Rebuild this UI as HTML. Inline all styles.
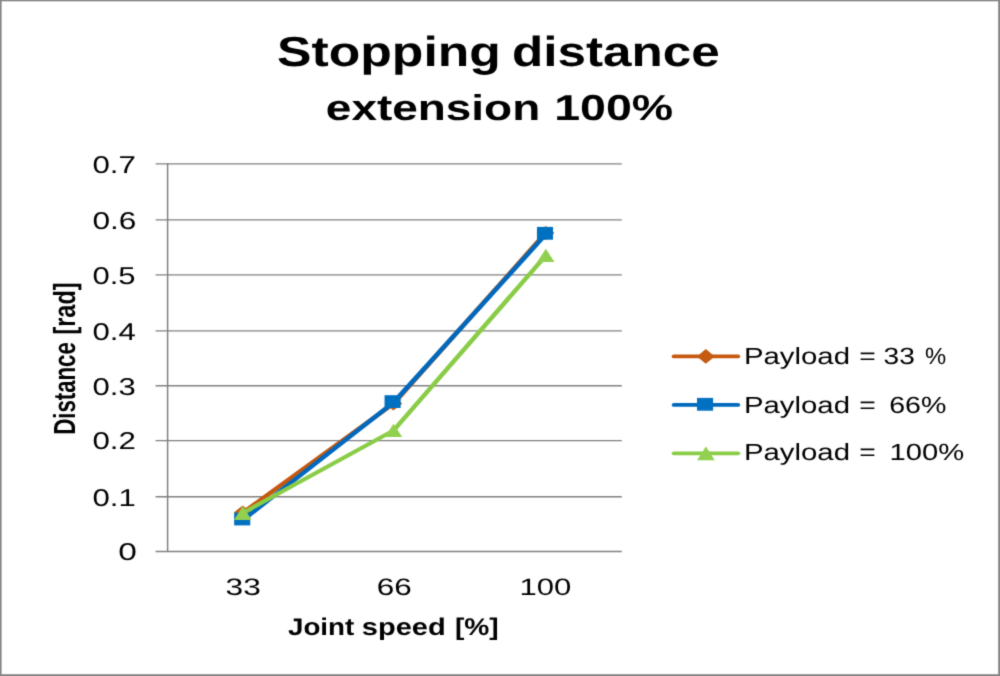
<!DOCTYPE html>
<html>
<head>
<meta charset="utf-8">
<title>Stopping distance</title>
<style>
html,body{margin:0;padding:0;background:#fff;}
body{width:1000px;height:676px;overflow:hidden;font-family:"Liberation Sans",sans-serif;}
svg{display:block;}
text{font-family:"Liberation Sans",sans-serif;fill:#000;text-rendering:geometricPrecision;}
.b{font-weight:bold;}
</style>
</head>
<body>
<svg width="1000" height="676" viewBox="0 0 1000 676">
  <defs>
    <filter id="soft" x="0" y="0" width="1000" height="676" filterUnits="userSpaceOnUse" color-interpolation-filters="sRGB">
      <feConvolveMatrix order="3" kernelMatrix="0.01960 0.10080 0.01960 0.10080 0.51840 0.10080 0.01960 0.10080 0.01960" divisor="1" edgeMode="duplicate" preserveAlpha="true"/>
    </filter>
  </defs>
  <g filter="url(#soft)">
  <rect x="0" y="0" width="1000" height="676" fill="#ffffff"/>
  <!-- outer border -->
  <g id="border" fill="#858585">
  <rect x="0" y="0" width="1000" height="1.3"/>
  <rect x="0" y="0" width="1.6" height="676"/>
  <rect x="998.2" y="0" width="1.8" height="676"/>
  <rect x="0" y="674.2" width="1000" height="1.8"/>
  </g>

  <!-- gridlines -->
  <g id="grid" stroke="#808080" stroke-width="1.3" fill="none">
    <line x1="155.6" y1="163.9" x2="621.8" y2="163.9"/>
    <line x1="155.6" y1="219.9" x2="621.8" y2="219.9"/>
    <line x1="155.6" y1="274.85" x2="621.8" y2="274.85"/>
    <line x1="155.6" y1="330.85" x2="621.8" y2="330.85"/>
    <line x1="155.6" y1="385.75" x2="621.8" y2="385.75"/>
    <line x1="155.6" y1="440.6" x2="621.8" y2="440.6"/>
    <line x1="155.6" y1="496.75" x2="621.8" y2="496.75"/>
    <line x1="155.6" y1="551.5" x2="621.8" y2="551.5"/>
    <line x1="167.6" y1="163.3" x2="167.6" y2="552.1" stroke-width="1.5"/>
  </g>

  <g id="series" transform="scale(1.26 1)" stroke-width="3.9" stroke-linejoin="round" stroke-linecap="round">
  <g stroke="#c6570d" fill="#c55a11"><polyline fill="none" points="192.78,512.6 312.38,403.5 432.70,233.4"/><g stroke="none"><polygon points="185.56,512.4 192.62,505.4 199.68,512.4 192.62,519.4"/><polygon points="305.16,403.6 312.22,396.6 319.29,403.6 312.22,410.6"/><polygon points="425.95,232.9 433.02,225.9 440.08,232.9 433.02,239.9"/></g></g>
  <g stroke="#0069be" fill="#0070c0"><polyline fill="none" points="192.94,519.9 312.30,402.5 433.25,234.2"/><g stroke="none"><rect x="185.83" y="512.60" width="12.78" height="12.8"/><rect x="305.20" y="395.20" width="12.78" height="12.8"/><rect x="426.15" y="226.90" width="12.78" height="12.8"/></g></g>
  <g stroke="#89cc46" fill="#92d050"><polyline fill="none" points="192.70,513.0 312.30,430.5 433.17,255.5"/><g stroke="none"><polygon points="192.70,505.7 199.60,520.0 185.79,520.0"/><polygon points="312.30,423.7 319.21,437.0 305.40,437.0"/><polygon points="433.17,248.8 440.08,262.0 426.27,262.0"/></g></g>
  <line x1="534.92" y1="356.4" x2="585.63" y2="356.4" stroke="#c6570d" stroke-width="3.7"/>
  <line x1="534.92" y1="404.95" x2="585.63" y2="404.95" stroke="#0069be" stroke-width="3.7"/>
  <line x1="534.92" y1="453.3" x2="585.63" y2="453.3" stroke="#89cc46" stroke-width="3.7"/>
  <g fill="#c55a11"><polygon points="553.10,356.4 560.16,349.0 567.22,356.4 560.16,363.8"/></g>
  <g fill="#0070c0"><rect x="553.17" y="397.90" width="12.78" height="12.8"/></g>
  <g fill="#92d050"><polygon points="560.24,446.4 567.26,460.2 553.21,460.2"/></g>
  </g>

  <!-- texts -->
  <text id="t1a" class="tx b" x="277.09" y="66.30" font-size="42" textLength="223.76" lengthAdjust="spacingAndGlyphs">Stopping</text>
  <text id="t1b" class="tx b" x="512.07" y="66.30" font-size="42" textLength="207.73" lengthAdjust="spacingAndGlyphs">distance</text>
  <text id="t2a" class="tx b" x="325.85" y="119.60" font-size="36" textLength="214.38" lengthAdjust="spacingAndGlyphs">extension</text>
  <text id="t2b" class="tx b" x="554.23" y="119.60" font-size="36" textLength="119.00" lengthAdjust="spacingAndGlyphs">100%</text>
  <text id="y7" class="tx" x="92.46" y="172.70" font-size="24.3" textLength="43.46" lengthAdjust="spacingAndGlyphs">0.7</text>
  <text id="y6" class="tx" x="92.46" y="228.70" font-size="24.3" textLength="44.01" lengthAdjust="spacingAndGlyphs">0.6</text>
  <text id="y5" class="tx" x="92.50" y="283.65" font-size="24.3" textLength="43.13" lengthAdjust="spacingAndGlyphs">0.5</text>
  <text id="y4" class="tx" x="92.51" y="339.65" font-size="24.3" textLength="43.31" lengthAdjust="spacingAndGlyphs">0.4</text>
  <text id="y3" class="tx" x="92.49" y="394.55" font-size="24.3" textLength="43.18" lengthAdjust="spacingAndGlyphs">0.3</text>
  <text id="y2" class="tx" x="92.46" y="449.40" font-size="24.3" textLength="43.46" lengthAdjust="spacingAndGlyphs">0.2</text>
  <text id="y1" class="tx" x="92.48" y="505.55" font-size="24.3" textLength="43.36" lengthAdjust="spacingAndGlyphs">0.1</text>
  <text id="y0" class="tx" x="118.33" y="560.30" font-size="24.3" textLength="18.61" lengthAdjust="spacingAndGlyphs">0</text>
  <text id="x33" class="tx" x="225.64" y="594.60" font-size="23.8" textLength="35.25" lengthAdjust="spacingAndGlyphs">33</text>
  <text id="x66" class="tx" x="376.66" y="594.60" font-size="23.8" textLength="35.03" lengthAdjust="spacingAndGlyphs">66</text>
  <text id="x100" class="tx" x="519.44" y="594.60" font-size="23.8" textLength="51.85" lengthAdjust="spacingAndGlyphs">100</text>
  <text id="xa" class="tx b" x="287.94" y="634.90" font-size="24" textLength="66.32" lengthAdjust="spacingAndGlyphs">Joint</text>
  <text id="xb" class="tx b" x="361.79" y="634.90" font-size="24" textLength="84.00" lengthAdjust="spacingAndGlyphs">speed</text>
  <text id="xc" class="tx b" x="454.93" y="634.90" font-size="24" textLength="43.81" lengthAdjust="spacingAndGlyphs">[%]</text>
  <text id="l1a" class="tx" x="743.94" y="364.45" font-size="23.4" textLength="106.03" lengthAdjust="spacingAndGlyphs">Payload</text>
  <text id="l1b" class="tx" x="859.38" y="364.45" font-size="23.4" textLength="16.53" lengthAdjust="spacingAndGlyphs">=</text>
  <text id="l1c" class="tx" x="883.62" y="364.45" font-size="23.4" textLength="31.30" lengthAdjust="spacingAndGlyphs">33</text>
  <text id="l1d" class="tx" x="924.91" y="364.45" font-size="23.4" textLength="21.19" lengthAdjust="spacingAndGlyphs">%</text>
  <text id="l2a" class="tx" x="743.94" y="412.65" font-size="23.4" textLength="106.03" lengthAdjust="spacingAndGlyphs">Payload</text>
  <text id="l2b" class="tx" x="859.38" y="412.65" font-size="23.4" textLength="16.53" lengthAdjust="spacingAndGlyphs">=</text>
  <text id="l2c" class="tx" x="889.23" y="412.65" font-size="23.4" textLength="57.23" lengthAdjust="spacingAndGlyphs">66%</text>
  <text id="l3a" class="tx" x="743.94" y="460.15" font-size="23.4" textLength="106.03" lengthAdjust="spacingAndGlyphs">Payload</text>
  <text id="l3b" class="tx" x="859.38" y="460.15" font-size="23.4" textLength="16.53" lengthAdjust="spacingAndGlyphs">=</text>
  <text id="l3c" class="tx" x="889.64" y="460.15" font-size="23.4" textLength="74.65" lengthAdjust="spacingAndGlyphs">100%</text>
  <text id="ya" class="tx b" transform="translate(74.50,434.87) rotate(-90)" font-size="30.5" textLength="92.74" lengthAdjust="spacingAndGlyphs">Distance</text>
  <text id="yb" class="tx b" transform="translate(74.50,334.58) rotate(-90)" font-size="30.5" textLength="52.16" lengthAdjust="spacingAndGlyphs">[rad]</text>
  </g>
</svg>
</body>
</html>
